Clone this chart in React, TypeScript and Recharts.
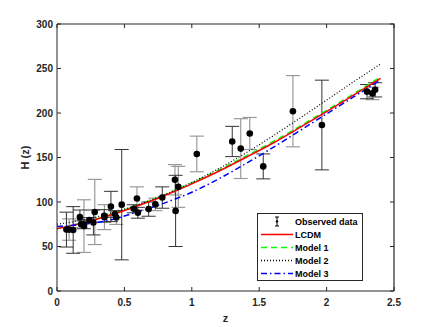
import React from 'react';
import { ComposedChart, Line, Scatter, ErrorBar, XAxis, YAxis } from 'recharts';

// observed H(z) points
const obsZ = [0.07, 0.09, 0.12, 0.17, 0.179, 0.199, 0.2, 0.24, 0.27, 0.28, 0.35, 0.352, 0.4, 0.43, 0.44, 0.48, 0.57, 0.593, 0.6, 0.68, 0.73, 0.781, 0.875, 0.88, 0.9, 1.037, 1.3, 1.363, 1.43, 1.53, 1.75, 1.965, 2.3, 2.34, 2.36];
const obsH = [69, 69, 68.6, 83, 75, 75, 72.9, 79.7, 77, 88.8, 84.4, 83, 95, 86.5, 82.6, 97, 92.4, 104, 87.9, 92, 97.3, 105, 125, 90, 117, 154, 168, 160, 177, 140, 202, 186.5, 224, 222, 226];
const obsErr = [19.6, 12, 26.2, 8, 4, 5, 29.6, 2.7, 14, 36.6, 7, 14, 17, 3.7, 7.8, 62, 4.5, 13, 6.1, 8, 7, 12, 17, 40, 23, 20, 17, 33.6, 18, 14, 40, 50.4, 8, 7, 8];
// 1 = light grey error bar, 0 = dark
const obsGrey = [0, 1, 0, 0, 1, 0, 1, 0, 0, 1, 0, 1, 0, 0, 1, 0, 0, 1, 0, 0, 1, 0, 1, 0, 1, 1, 0, 1, 1, 0, 1, 0, 0, 1, 0];

// model curves
const zLine = [0, 0.2, 0.4, 0.6, 0.8, 1.0, 1.2, 1.4, 1.6, 1.8, 2.0, 2.2, 2.4];
const lcdm = [70, 76.8, 85.4, 95.7, 107.3, 120.4, 134.6, 150, 166, 183.5, 201.5, 220, 239];
const model1 = [70, 77.2, 86, 96.5, 108.3, 121.5, 136, 151.5, 167.7, 185, 203, 221.5, 240.5];
const model2 = [75, 80, 87.5, 97, 108.5, 122, 137.5, 155, 174, 194, 214.5, 235, 255];
const model3 = [72.5, 75, 80, 89, 99, 111, 126, 143, 161, 180, 199, 218, 237];

const xTicks = [0, 0.5, 1, 1.5, 2, 2.5];
const yTicks = [0, 50, 100, 150, 200, 250, 300];

const FONT = '"Liberation Sans", Arial, Helvetica, sans-serif';
const AX = '#262626';
const W = 436;
const H = 327;
const MARGIN = { top: 24, right: 42, left: 17, bottom: 6 };
const Y_AXIS_W = 40;
const X_AXIS_H = 30;
const PLOT_L = MARGIN.left + Y_AXIS_W;
const PLOT_R = W - MARGIN.right;
const PLOT_T = MARGIN.top;
const PLOT_B = H - MARGIN.bottom - X_AXIS_H;

const toPts = (ys: number[]) => zLine.map((z, i) => ({ z, h: ys[i] }));
const obsDark = obsZ.map((z, i) => ({ z, h: obsH[i], err: obsErr[i] })).filter((_, i) => !obsGrey[i]);
const obsLight = obsZ.map((z, i) => ({ z, h: obsH[i], err: obsErr[i] })).filter((_, i) => obsGrey[i]);

const Dot = (p: any) => <circle cx={p.cx} cy={p.cy} r={3.3} fill="#000" />;

// inward ticks on bottom + top edge, label below
const BottomTick = (p: any) => (
  <g>
    <path d={`M${p.x},${p.y}V${p.y - 4}M${p.x},${PLOT_T}V${PLOT_T + 4}`} stroke={AX} strokeWidth={1} fill="none" />
    <text x={p.x} y={p.y + 15} textAnchor="middle" fontSize={10} fontWeight="bold" fill={AX} fontFamily={FONT}>
      {String(p.payload.value)}
    </text>
  </g>
);
// inward ticks on left + right edge, label left
const LeftTick = (p: any) => (
  <g>
    <path d={`M${p.x},${p.y}H${p.x + 4}M${PLOT_R},${p.y}H${PLOT_R - 4}`} stroke={AX} strokeWidth={1} fill="none" />
    <text x={p.x - 4} y={p.y + 3.5} textAnchor="end" fontSize={10} fontWeight="bold" fill={AX} fontFamily={FONT}>
      {String(p.payload.value)}
    </text>
  </g>
);

const legendRows = [
  { name: 'Observed data', kind: 'obs' },
  { name: 'LCDM', color: '#ff0000', dash: undefined },
  { name: 'Model 1', color: '#00ff00', dash: '6 4' },
  { name: 'Model 2', color: '#000000', dash: '1 2' },
  { name: 'Model 3', color: '#0000ff', dash: '6 3 1.5 3' },
];

const LegendBox = () => (
  <div
    style={{
      position: 'absolute', left: 257, top: 213, width: 104, height: 66,
      border: `1px solid ${AX}`, background: '#fff', fontFamily: FONT,
      fontSize: 9, fontWeight: 'bold', color: '#000',
    }}
  >
    {legendRows.map((r, i) => (
      <div key={r.name} style={{ position: 'absolute', left: 0, top: 1 + i * 13, height: 13, display: 'flex', alignItems: 'center' }}>
        <svg width={36} height={13} style={{ display: 'block' }}>
          {r.kind === 'obs' ? (
            <g stroke="#000" strokeWidth={1}>
              <line x1={19} x2={19} y1={2} y2={11} />
              <line x1={17} x2={21} y1={2} y2={2} />
              <line x1={17} x2={21} y1={11} y2={11} />
              <circle cx={19} cy={6.5} r={0.8} fill="#000" />
            </g>
          ) : (
            <line x1={3} x2={35} y1={6.5} y2={6.5} stroke={r.color} strokeWidth={1.5} strokeDasharray={r.dash} />
          )}
        </svg>
        <span style={{ marginLeft: 1, whiteSpace: 'nowrap' }}>{r.name}</span>
      </div>
    ))}
  </div>
);

// top and right edges of the axes box
const BoxFrame = () => (
  <svg width={W} height={H} style={{ position: 'absolute', left: 0, top: 0, pointerEvents: 'none' }}>
    <path d={`M${PLOT_L},${PLOT_T}H${PLOT_R}V${PLOT_B}`} stroke={AX} strokeWidth={1.2} fill="none" />
  </svg>
);

export default function App() {
  return (
    <div style={{ position: 'absolute', left: 0, top: 0, width: W, height: H, background: '#fff' }}>
      <ComposedChart width={W} height={H} margin={MARGIN}>
        <XAxis
          xAxisId="b" dataKey="z" type="number" domain={[0, 2.5]} ticks={xTicks} allowDataOverflow
          height={X_AXIS_H} tickSize={0} tickMargin={0} tickLine={false} tick={BottomTick} stroke={AX}
          label={{
            content: (p: any) => (
              <text x={p.viewBox.x + p.viewBox.width / 2} y={p.viewBox.y + 31} textAnchor="middle" fontSize={11} fontWeight="bold" fill={AX} fontFamily={FONT}>z</text>
            ),
          }}
        />
        <YAxis
          yAxisId="l" type="number" domain={[0, 300]} ticks={yTicks} allowDataOverflow
          width={Y_AXIS_W} tickSize={0} tickMargin={0} tickLine={false} tick={LeftTick} stroke={AX}
          label={{
            content: (p: any) => {
              const cx = p.viewBox.x + 8;
              const cy = p.viewBox.y + p.viewBox.height / 2;
              return (
                <text x={cx} y={cy} transform={`rotate(-90 ${cx} ${cy})`} textAnchor="middle" dominantBaseline="central" fontSize={11} fontWeight="bold" fill={AX} fontFamily={FONT}>H (z)</text>
              );
            },
          }}
        />

        <Scatter xAxisId="b" yAxisId="l" data={obsLight} dataKey="h" shape={Dot} isAnimationActive={false}>
          <ErrorBar dataKey="err" direction="y" width={7} stroke="#9a9a9a" strokeWidth={1.2} />
        </Scatter>
        <Scatter xAxisId="b" yAxisId="l" data={obsDark} dataKey="h" shape={Dot} isAnimationActive={false}>
          <ErrorBar dataKey="err" direction="y" width={7} stroke="#333" strokeWidth={1} />
        </Scatter>

        <Line xAxisId="b" yAxisId="l" data={toPts(model1)} dataKey="h" type="monotone" stroke="#00ff00" strokeWidth={1.5} strokeDasharray="6 4" dot={false} isAnimationActive={false} />
        <Line xAxisId="b" yAxisId="l" data={toPts(lcdm)} dataKey="h" type="monotone" stroke="#ff0000" strokeWidth={1.5} dot={false} isAnimationActive={false} />
        <Line xAxisId="b" yAxisId="l" data={toPts(model2)} dataKey="h" type="monotone" stroke="#000" strokeWidth={1.2} strokeDasharray="1 2" dot={false} isAnimationActive={false} />
        <Line xAxisId="b" yAxisId="l" data={toPts(model3)} dataKey="h" type="monotone" stroke="#0000ff" strokeWidth={1.5} strokeDasharray="6 3 1.5 3" dot={false} isAnimationActive={false} />
      </ComposedChart>
      <BoxFrame />
      <LegendBox />
    </div>
  );
}
